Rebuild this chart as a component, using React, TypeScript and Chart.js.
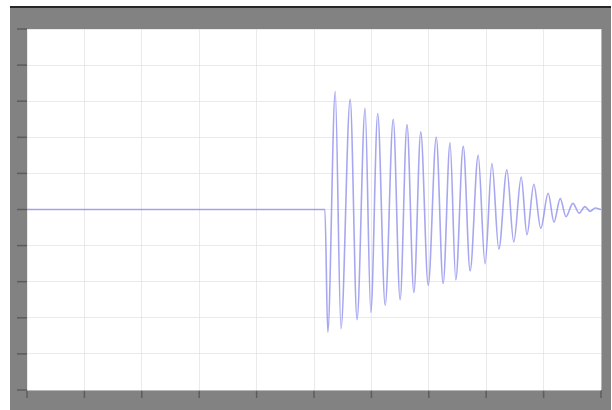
import React, { useEffect, useRef } from "react";
import { Chart, registerables } from "chart.js";

Chart.register(...registerables);

// time in grid divisions (0..10)
const times = [
  0.0, 5.19, 5.24, 5.37, 5.47, 5.63, 5.75, 5.89, 5.99, 6.11, 6.24, 6.38, 6.5, 6.62, 6.74, 6.86,
  6.99, 7.13, 7.25, 7.37, 7.47, 7.6, 7.72, 7.86, 7.98, 8.1, 8.22, 8.36, 8.48, 8.61, 8.71, 8.83,
  8.95, 9.08, 9.18, 9.29, 9.39, 9.51, 9.62, 9.72, 9.81, 9.9, 10.0,
];
const signal = [
  0, 0, -3.4, 3.27, -3.3, 3.05, -3.05, 2.8, -2.85, 2.66, -2.65, 2.5, -2.5, 2.35, -2.3, 2.15,
  -2.1, 2.0, -2.05, 1.85, -1.95, 1.75, -1.7, 1.5, -1.5, 1.27, -1.1, 1.1, -0.9, 0.9, -0.7, 0.7,
  -0.52, 0.45, -0.35, 0.3, -0.2, 0.17, -0.1, 0.08, -0.05, 0.04, 0,
];
const xTicks = [0, 1, 2, 3, 4, 5, 6, 7, 8, 9, 10];
const yTicks = [-5, -4, -3, -2, -1, 0, 1, 2, 3, 4, 5];

const framePlugin = {
  id: "scopeFrame",
  beforeDraw(chart: any) {
    const { ctx, chartArea } = chart;
    const W = chart.width;
    const H = chart.height;
    ctx.save();
    ctx.fillStyle = "#ffffff";
    ctx.fillRect(0, 0, W, H);
    ctx.fillStyle = "#828282";
    ctx.fillRect(10, 8, W - 11, H - 8);
    ctx.fillStyle = "#262626";
    ctx.fillRect(10, 6, W - 11, 2);
    ctx.fillStyle = "#ffffff";
    ctx.fillRect(chartArea.left, chartArea.top, chartArea.right - chartArea.left, chartArea.bottom - chartArea.top);
    // tick marks on the frame
    ctx.strokeStyle = "#5c5c5c";
    ctx.lineWidth = 1.5;
    const ys = chart.scales.y;
    const xs = chart.scales.x;
    yTicks.forEach((v) => {
      const p = ys.getPixelForValue(v);
      ctx.beginPath();
      ctx.moveTo(chartArea.left - 10, p);
      ctx.lineTo(chartArea.left, p);
      ctx.stroke();
    });
    xTicks.forEach((v) => {
      const p = xs.getPixelForValue(v);
      ctx.beginPath();
      ctx.moveTo(p, chartArea.bottom);
      ctx.lineTo(p, chartArea.bottom + 8);
      ctx.stroke();
    });
    ctx.restore();
  },
};

export default function App() {
  const ref = useRef<HTMLCanvasElement>(null);
  useEffect(() => {
    if (!ref.current) return;
    const chart = new Chart(ref.current, {
      type: "line",
      data: {
        datasets: [
          {
            data: times.map((t, i) => ({ x: t, y: signal[i] })),
            borderColor: "rgba(130,130,235,0.7)",
            borderWidth: 1.6,
            pointRadius: 0,
            cubicInterpolationMode: "monotone",
            fill: false,
          },
        ],
      },
      options: {
        animation: false,
        responsive: false,
        maintainAspectRatio: false,
        layout: { padding: { left: 27, right: 11, top: 29, bottom: 20 } },
        plugins: { legend: { display: false }, tooltip: { enabled: false } },
        scales: {
          x: {
            type: "linear",
            min: 0,
            max: 10,
            afterFit: (s: any) => { s.height = 0; },
            afterBuildTicks: (s: any) => { s.ticks = xTicks.map((v) => ({ value: v })); },
            ticks: { display: false },
            border: { display: false },
            grid: { color: "rgba(220,220,220,0.6)", lineWidth: 1, drawTicks: false },
          },
          y: {
            type: "linear",
            min: -5,
            max: 5,
            afterFit: (s: any) => { s.width = 0; },
            afterBuildTicks: (s: any) => { s.ticks = yTicks.map((v) => ({ value: v })); },
            ticks: { display: false },
            border: { display: false },
            grid: { color: "rgba(220,220,220,0.6)", lineWidth: 1, drawTicks: false },
          },
        },
      },
      plugins: [framePlugin],
    } as any);
    return () => chart.destroy();
  }, []);
  return (
    <div style={{ position: "fixed", left: 0, top: 0, width: 612, height: 410 }}>
      <canvas ref={ref} width={612} height={410} style={{ display: "block", width: 612, height: 410 }} />
    </div>
  );
}
